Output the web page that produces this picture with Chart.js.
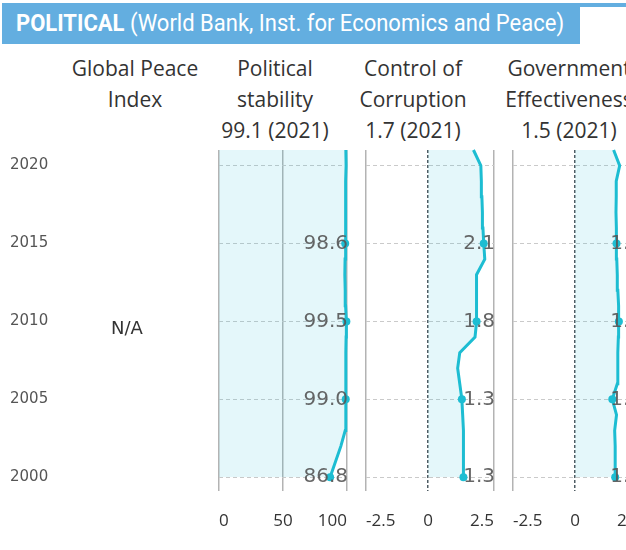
<!DOCTYPE html>
<html>
<head>
<meta charset="utf-8">
<script src="https://cdn.jsdelivr.net/npm/chart.js@4.4.0/dist/chart.umd.min.js"></script>
<style>
  html, body { margin: 0; padding: 0; background: #fff; }
  body { width: 626px; height: 550px; overflow: hidden; position: relative; }
  #strip { position: absolute; left: 2px; top: 3px; width: 624px; height: 4px; background: #63aee0; }
  #banner { position: absolute; left: 2px; top: 3px; width: 578px; height: 41px; background: #63aee0; }
  #banner span { position: absolute; left: 14px; top: 0; line-height: 41px; white-space: nowrap;
    color: #fff; font-family: Roboto, sans-serif; font-size: 23px; transform-origin: left center; }
  #banner b { font-weight: 700; }
  .colhead { position: absolute; top: 53px; width: 180px; margin-left: -90px; text-align: center;
    font-family: "Open Sans", sans-serif; font-size: 21px; line-height: 31px; color: #333; white-space: nowrap; }
  canvas { position: absolute; top: 140px; }
  #na { position: absolute; left: 96px; top: 317px; width: 62px; text-align: center;
    font-family: "DejaVu Sans", sans-serif; font-size: 18px; color: #333; }
</style>
</head>
<body>
<div id="strip"></div>
<div id="banner"><span id="bannerText"><b>POLITICAL</b> (World Bank, Inst. for Economics and Peace)</span></div>
<div id="heads"></div>
<canvas id="c0" width="208" height="400"></canvas>
<canvas id="c1" width="144" height="400"></canvas>
<canvas id="c2" width="144" height="400"></canvas>
<canvas id="c3" width="144" height="400"></canvas>
<div id="na">N/A</div>
<script>
// years with data (WGI skips 2001)
const years = [2000, 2002, 2003, 2004, 2005, 2006, 2007, 2008, 2009, 2010, 2011,
               2012, 2013, 2014, 2015, 2016, 2017, 2018, 2019, 2020, 2021];
const yearTicks = [2000, 2005, 2010, 2015, 2020];
const markedYears = [2000, 2005, 2010, 2015];

const stability = [86.8, 95.2, 98.6, 99.0, 99.0, 99.2, 99.2, 99.0, 99.3, 99.5, 98.9,
                   98.6, 98.3, 98.5, 98.6, 98.9, 99.0, 99.0, 99.2, 99.3, 99.1];
const corruption = [1.34, 1.34, 1.34, 1.31, 1.28, 1.20, 1.12, 1.20, 1.78, 1.84, 1.83,
                    1.83, 1.85, 2.15, 2.11, 2.08, 2.06, 2.04, 2.02, 2.00, 1.72];
const effectiveness = [1.52, 1.52, 1.50, 1.57, 1.41, 1.60, 1.62, 1.62, 1.64, 1.66, 1.64,
                       1.62, 1.60, 1.58, 1.57, 1.56, 1.55, 1.56, 1.56, 1.69, 1.46];

const stabilityTicks = [0, 50, 100];
const wgiTicks = [-2.5, 0, 2.5];

const colTitles = [
    ['Global Peace', 'Index'],
    ['Political', 'stability'],
    ['Control of', 'Corruption'],
    ['Government', 'Effectiveness']
];
const colSeries = [null, stability, corruption, effectiveness];

const LINE = '#1dbdd2';
const FILL = 'rgba(29, 189, 210, 0.12)';
const Y_MIN = 1999.12, Y_MAX = 2021;

// banner: squeeze text to the width of the reference
const bt = document.getElementById('bannerText');
bt.style.transform = 'scaleX(' + (548 / bt.offsetWidth) + ')';

// column headers
const headCenters = [135, 275, 413, 569];
document.getElementById('heads').innerHTML = colTitles.map((t, i) => {
    const s = colSeries[i];
    const last = s ? `${s[s.length - 1].toFixed(1)} (${years[years.length - 1]})` : '';
    return `<div class="colhead" style="left:${headCenters[i]}px">${t[0]}<br>${t[1]}<br>${last}</div>`;
}).join('');

const pointLabels = {
    id: 'pointLabels',
    afterDatasetsDraw(chart) {
        const ds = chart.data.datasets[0];
        if (!ds) return;
        const { ctx, chartArea, scales } = chart;
        ctx.save();
        ctx.font = '20px "DejaVu Sans"';
        ctx.fillStyle = 'rgba(85, 85, 85, 0.9)';
        ctx.textAlign = 'right';
        ctx.textBaseline = 'middle';
        ds.data.forEach(p => {
            if (!markedYears.includes(p.y)) return;
            ctx.fillText(p.x.toFixed(1), chartArea.right + 1, scales.y.getPixelForValue(p.y));
        });
        ctx.restore();
    }
};

function yScale(showLabels) {
    return {
        type: 'linear',
        min: Y_MIN,
        max: Y_MAX,
        afterBuildTicks: s => { s.ticks = yearTicks.map(v => ({ value: v })); },
        afterFit: s => { s.width = showLabels ? 62 : 0; },
        ticks: {
            display: showLabels,
            crossAlign: 'far',
            padding: 0,
            color: '#555',
            font: { family: 'DejaVu Sans', size: 15 },
            callback: v => String(v)
        },
        grid: { display: !showLabels, color: '#cacaca', lineWidth: 1, drawTicks: false },
        border: { display: false, dash: [4, 3] }
    };
}

function xScale(min, max, tickVals, zeroDashed) {
    return {
        type: 'linear',
        min: min,
        max: max,
        afterBuildTicks: s => { s.ticks = tickVals.map(v => ({ value: Math.max(s.min, Math.min(s.max, v)) })); },
        afterFit: s => { s.height = 49; },
        ticks: {
            align: 'inner',
            autoSkip: false,
            maxRotation: 0,
            padding: 0,
            color: '#333',
            font: { family: 'Open Sans', size: 17 },
            callback: (v, i) => String(tickVals[i])
        },
        grid: {
            drawTicks: true,
            tickLength: 20,
            tickColor: 'transparent',
            lineWidth: 1.5,
            color: ctx => (zeroDashed && ctx.tick && ctx.tick.value === 0) ? '#4f5c63' : '#b3b3b3'
        },
        border: {
            display: false,
            dash: ctx => (zeroDashed && ctx.tick && ctx.tick.value === 0) ? [3, 2] : []
        }
    };
}

// year axis + empty Global Peace Index column
new Chart(document.getElementById('c0'), {
    type: 'line',
    data: { datasets: [] },
    options: {
        responsive: false,
        animation: false,
        indexAxis: 'y',
        layout: { autoPadding: false, padding: { left: 10, right: 8, top: 10, bottom: 49 } },
        plugins: { legend: { display: false }, tooltip: { enabled: false } },
        scales: {
            x: { type: 'linear', min: 0, max: 1, display: false },
            y: yScale(true)
        }
    }
});

const panels = [
    { id: 'c1', left: 219, values: stability, min: 0, max: 100, ticks: stabilityTicks, zeroDashed: false },
    { id: 'c2', left: 366, values: corruption, min: -2.36, max: 2.5, ticks: wgiTicks, zeroDashed: true },
    { id: 'c3', left: 513, values: effectiveness, min: -2.36, max: 2.5, ticks: wgiTicks, zeroDashed: true }
];

panels.forEach(p => {
    const el = document.getElementById(p.id);
    el.style.left = (p.left - 8) + 'px';
    new Chart(el, {
        type: 'line',
        data: {
            datasets: [{
                data: years.map((y, i) => ({ x: p.values[i], y: y })),
                borderColor: LINE,
                borderWidth: 3,
                backgroundColor: FILL,
                fill: 'origin',
                tension: 0,
                clip: false,
                pointRadius: ctx => (ctx.raw && markedYears.includes(ctx.raw.y)) ? 4 : 0,
                pointBackgroundColor: LINE,
                pointBorderWidth: 0
            }]
        },
        options: {
            responsive: false,
            animation: false,
            indexAxis: 'y',
            layout: { autoPadding: false, padding: { left: 8, right: 8, top: 10, bottom: 0 } },
            plugins: { legend: { display: false }, tooltip: { enabled: false } },
            scales: {
                x: xScale(p.min, p.max, p.ticks, p.zeroDashed),
                y: yScale(false)
            }
        },
        plugins: [pointLabels]
    });
});
</script>
</body>
</html>
